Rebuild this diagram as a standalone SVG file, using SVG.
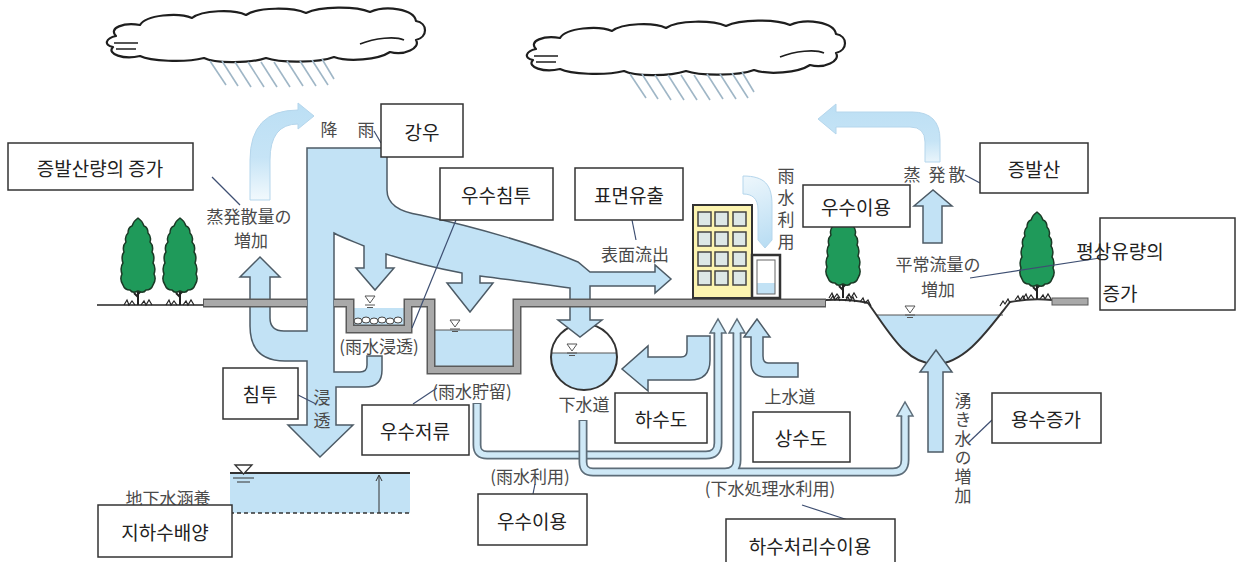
<svg xmlns="http://www.w3.org/2000/svg" width="1239" height="562" viewBox="0 0 1239 562">
<style>
.box{fill:#fff;stroke:#333;stroke-width:1.5}
.kr{font-family:"Noto Sans CJK KR","Noto Sans CJK JP",sans-serif;font-size:19px;fill:#222;text-anchor:middle;dominant-baseline:central}
.jp{font-family:"Noto Sans CJK JP",sans-serif;font-size:17px;fill:#4a4a4a;text-anchor:middle;dominant-baseline:central}
.vt{font-family:"Noto Sans CJK JP",sans-serif;font-size:17px;fill:#4a4a4a;text-anchor:middle;writing-mode:vertical-rl}
.flow{fill:#c2e2f5;stroke:#4d5b66;stroke-width:1.5;stroke-linejoin:miter}
.lead{fill:none;stroke:#3e4f72;stroke-width:1.2}
.pipeO{fill:none;stroke:#5d6d79;stroke-width:9}
.pipeI{fill:none;stroke:#cfe9f7;stroke-width:5.5}
.cloud{fill:#fff;stroke:#1e1e1e;stroke-width:2.2;stroke-linejoin:round}
.rain{stroke:#9fb6c6;stroke-width:1.6}
.tree{fill:#1f9a5a;stroke:#1b3a26;stroke-width:1.5;stroke-linejoin:round}
.grass{fill:none;stroke:#222;stroke-width:1.2}
.wl{fill:none;stroke:#555;stroke-width:1}
</style>
<defs>
  <linearGradient id="evapL" gradientUnits="userSpaceOnUse" x1="0" y1="105" x2="0" y2="200">
    <stop offset="0" stop-color="#bcdff4"/><stop offset="0.55" stop-color="#c6e4f6"/><stop offset="1" stop-color="#f2f9fd"/>
  </linearGradient>
  <linearGradient id="evapR" gradientUnits="userSpaceOnUse" x1="0" y1="105" x2="0" y2="165">
    <stop offset="0" stop-color="#bcdff4"/><stop offset="0.6" stop-color="#c6e4f6"/><stop offset="1" stop-color="#eef7fc"/>
  </linearGradient>
  <linearGradient id="useG" gradientUnits="userSpaceOnUse" x1="743" y1="176" x2="770" y2="245">
    <stop offset="0" stop-color="#eef7fc"/><stop offset="1" stop-color="#b9ddf3"/>
  </linearGradient>
  <clipPath id="sewerClip"><rect x="540" y="353" width="90" height="50"/></clipPath>
  <clipPath id="riverClip"><rect x="860" y="315" width="160" height="60"/></clipPath>
  <!-- cloud with rain streaks -->
  <g id="cloud">
    <path class="cloud" d="M 116 36 C 108 28 124 22 140 25 C 146 15 178 12 192 18 C 202 10 234 9 246 15 C 258 7 292 7 306 13 C 320 6 356 6 370 12 C 386 5 414 9 416 21 C 428 23 428 37 416 40 C 421 48 404 56 390 52 C 378 60 348 62 334 57 C 318 63 280 63 266 58 C 248 64 214 63 204 58 C 184 63 150 61 140 56 C 124 60 106 54 113 47 C 103 45 106 38 116 36 Z"/>
    <path fill="none" stroke="#1e1e1e" stroke-width="1.6" d="M 114 43 H 138 M 116 49 H 136 M 360 44 C 375 38 395 36 404 40"/>
    <g class="rain">
      <line x1="210" y1="61" x2="226" y2="85"/><line x1="222" y1="61" x2="238" y2="86"/>
      <line x1="235" y1="62" x2="251" y2="87"/><line x1="248" y1="62" x2="264" y2="87"/>
      <line x1="261" y1="62" x2="277" y2="87"/><line x1="274" y1="62" x2="290" y2="87"/>
      <line x1="287" y1="61" x2="303" y2="86"/><line x1="300" y1="61" x2="316" y2="86"/>
      <line x1="312" y1="60" x2="328" y2="85"/><line x1="322" y1="59" x2="334" y2="79"/>
    </g>
  </g>
  <!-- tree: centre x=0, crown top y=0, ground y=87 -->
  <g id="tree">
    <path fill="none" stroke="#222" stroke-width="2" d="M0,68 V87 M0,79 L-4,75 M0,76 L4,72"/>
    <path class="tree" d="M0,0 C3,2 5,5 6,8 C9,9 10,12 10,15 C13,18 13,21 12,24 C15,27 15,31 14,34 C17,38 16,42 15,45 C18,49 17,53 16,56 C18,60 17,64 15,67 C14,70 11,72 8,72 C6,75 2,74 0,73 C-2,74 -6,75 -8,72 C-11,72 -14,70 -15,67 C-17,64 -18,60 -16,56 C-17,53 -18,49 -15,45 C-16,42 -17,38 -14,34 C-15,31 -15,27 -12,24 C-13,21 -13,18 -10,15 C-10,12 -9,9 -6,8 C-5,5 -3,2 0,0 Z"/>
    <path class="grass" d="M-14,87 L-11,82 L-9,87 L-6,83 L-3,87 M3,87 L6,83 L8,87 L11,82 L14,87"/>
  </g>
  <!-- water level mark -->
  <g id="wl">
    <path fill="#fff" stroke="#555" stroke-width="1" d="M -5 -4 H 5 L 0 3 Z"/>
    <path class="wl" d="M -5 5 H 5 M -3 7.5 H 3"/>
  </g>
  <!-- hollow head for pipe arrows -->
  <path id="phead" fill="#cfe9f7" stroke="#5d6d79" stroke-width="1.5" d="M -2.8 14 H -8 L 0 0 L 8 14 H 2.8"/>
</defs>

<rect width="1239" height="562" fill="#fff"/>

<g id="clouds">
  <use href="#cloud"/>
  <use href="#cloud" transform="translate(420,13)"/>
</g>

<!-- evaporation arrows in the sky -->
<g id="evap-arrows">
  <path fill="url(#evapL)" stroke="#b5d6ec" stroke-width="1" d="M 250 200 V 160 Q 250 110 298 110 V 103 L 314 116 L 298 129 V 124 Q 270 124 270 160 V 200 Z"/>
  <path fill="url(#evapR)" stroke="#b5d6ec" stroke-width="1" d="M 940 162 V 140 Q 940 112 912 112 H 836 V 104 L 818 119 L 836 134 V 127 H 910 Q 925 127 925 142 V 162 Z"/>
</g>

<!-- trees and natural ground -->
<g id="trees">
  <path fill="none" stroke="#222" stroke-width="1.5" d="M 97 305 H 203"/>
  <use href="#tree" transform="translate(138,218)"/>
  <use href="#tree" transform="translate(180,218)"/>
  <use href="#tree" transform="translate(843,211)"/>
  <use href="#tree" transform="translate(1037,212)"/>
</g>

<!-- river channel -->
<g id="river">
  <path fill="#c2e2f5" clip-path="url(#riverClip)" d="M 868 303 C 888 330 905 364 935 364 C 965 364 988 330 1010 302 Z"/>
  <path fill="none" stroke="#555" stroke-width="1" d="M 877 315 H 1003"/>
  <path fill="none" stroke="#333" stroke-width="2" d="M 826 300 Q 850 299 868 303 C 888 330 905 364 935 364 C 965 364 988 330 1010 302 Q 1030 298 1052 300"/>
  <path class="grass" d="M 830 300 l 3 -4 l 2 4 l 3 -3 l 2 4 M 845 301 l 3 -4 l 2 4 l 3 -4 l 2 5 M 860 302 l 3 -4 l 2 5 l 3 -3 l 3 6 M 1000 306 l 3 -5 l 2 3 l 3 -5 l 2 4 M 1015 300 l 3 -4 l 2 4 l 3 -4 l 2 4"/>
  <use href="#wl" transform="translate(910,310)"/>
  <rect x="1052" y="298" width="36" height="7" fill="#a9a9a9" stroke="#5a5a5a" stroke-width="1"/>
</g>

<!-- trench and storage water -->
<g id="storage">
  <rect x="353" y="308" width="52" height="18" fill="#c2e2f5"/>
  <g fill="#fff" stroke="#444" stroke-width="1">
    <ellipse cx="358" cy="321" rx="4" ry="3"/><ellipse cx="366" cy="320" rx="4" ry="3"/>
    <ellipse cx="374" cy="321" rx="4" ry="3"/><ellipse cx="382" cy="320" rx="4" ry="3"/>
    <ellipse cx="390" cy="321" rx="4" ry="3"/><ellipse cx="398" cy="320" rx="4" ry="3"/>
  </g>
  <use href="#wl" transform="translate(370,300)"/>
  <rect x="434" y="330" width="80" height="37" fill="#c2e2f5"/>
  <path fill="none" stroke="#555" stroke-width="1" d="M 434 330 H 514"/>
  <use href="#wl" transform="translate(455,324)"/>
</g>

<!-- sewer pipe -->
<g id="sewer">
  <circle cx="584" cy="357" r="33" fill="#fff"/>
  <circle cx="584" cy="357" r="33" fill="#c2e2f5" clip-path="url(#sewerClip)"/>
  <path fill="none" stroke="#555" stroke-width="1" d="M 551 353 H 617"/>
  <circle cx="584" cy="357" r="33" fill="none" stroke="#333" stroke-width="2"/>
  <use href="#wl" transform="translate(572,348)"/>
</g>

<!-- rainfall, surface runoff, infiltration and evaporation flows -->
<g id="flows">
  <path class="flow" d="M 307 148 H 387 V 190 C 387 205 400 212 420 215 C 480 228 540 246 578 262 L 590 272 H 655 V 265 L 671 279 L 655 293 V 286 H 590 V 320 H 602 L 580 337 L 558 320 H 570 V 288 C 540 284 505 279 480 276 V 283 H 493 L 470 312 L 447 283 H 462 V 273 C 430 267 405 260 386 254 V 268 H 394 L 375 290 L 356 268 H 364 V 246 C 352 241 341 237 334 233 V 372 H 360 Q 367 372 367 365 V 356 H 382 V 370 Q 382 387 365 387 H 336 V 425 H 353 L 320 457 L 288 425 H 307 V 361 H 285 Q 250 361 250 326 V 277 H 240 L 260 257 L 280 277 H 270 V 318 Q 270 331 284 331 H 307 Z"/>
  <path class="flow" d="M 687 336 V 351 Q 687 357 681 357 H 648 V 346 L 622 369 L 648 391 V 380 H 690 Q 710 380 710 360 V 336 Z"/>
  <path class="flow" d="M 751 337 V 362 Q 751 377 766 377 H 798 V 363 H 768 Q 763 363 763 356 V 337 H 770 L 757 319 L 744 337 Z"/>
  <path class="flow" d="M 923 243 V 206 H 914 L 933 190 L 952 206 H 942 V 243 Z"/>
  <path class="flow" stroke="#7a8a96" d="M 928 452 V 372 H 920 L 936 350 L 952 372 H 943 V 452 Z"/>
</g>

<!-- paved ground with infiltration trench and storage tank -->
<g id="ground" fill="none" stroke-linejoin="miter">
  <path stroke="#5a5a5a" stroke-width="9" d="M 203 303 H 307 M 334 303 H 350 V 329 H 408 V 303 H 431 V 370 H 517 V 303 H 826"/>
  <path stroke="#a9a9a9" stroke-width="6" d="M 204 303 H 307 M 334 303 H 350 V 329 H 408 V 303 H 431 V 370 H 517 V 303 H 825"/>
</g>

<!-- building with rainwater tank -->
<g id="building">
  <path fill="url(#useG)" stroke="#b5d6ec" stroke-width="1" d="M 743 176 C 765 176 772 185 772 205 V 240 L 765 248 L 758 240 V 210 C 758 198 752 194 743 194 Z"/>
  <rect x="693" y="205" width="59" height="93" fill="#fcf4b0" stroke="#333" stroke-width="2"/>
  <g fill="#dde8e6" stroke="#444" stroke-width="1.5">
    <rect x="698" y="212" width="13" height="14"/><rect x="715" y="212" width="13" height="14"/><rect x="733" y="212" width="13" height="14"/>
    <rect x="698" y="232" width="13" height="14"/><rect x="715" y="232" width="13" height="14"/><rect x="733" y="232" width="13" height="14"/>
    <rect x="698" y="252" width="13" height="14"/><rect x="715" y="252" width="13" height="14"/><rect x="733" y="252" width="13" height="14"/>
    <rect x="698" y="271" width="13" height="14"/><rect x="715" y="271" width="13" height="14"/><rect x="733" y="271" width="13" height="14"/>
  </g>
  <rect x="752" y="255" width="28" height="43" fill="#fff" stroke="#333" stroke-width="2.5"/>
  <rect x="757" y="283" width="18" height="11" fill="#c2e2f5"/>
  <rect x="757" y="260" width="18" height="34" fill="none" stroke="#666" stroke-width="1"/>
</g>

<!-- reuse pipes -->
<g id="pipes">
  <path class="pipeO" d="M 477 403 V 445 Q 477 455 487 455 H 706 Q 718 455 718 443 V 332"/>
  <path class="pipeI" d="M 477 404 V 445 Q 477 455 487 455 H 706 Q 718 455 718 443 V 331"/>
  <path class="pipeO" d="M 583 420 V 462 Q 583 472 593 472 H 893 Q 905 472 905 460 V 415 M 725 472 Q 737 472 737 460 V 332"/>
  <path class="pipeI" d="M 583 421 V 462 Q 583 472 593 472 H 893 Q 905 472 905 460 V 414 M 725 472 Q 737 472 737 460 V 331"/>
  <use href="#phead" transform="translate(718,319)"/>
  <use href="#phead" transform="translate(737,319)"/>
  <use href="#phead" transform="translate(905,402)"/>
</g>

<!-- groundwater recharge -->
<g id="groundwater">
  <rect x="230" y="473" width="180" height="40" fill="#c2e2f5"/>
  <path fill="none" stroke="#333" stroke-width="2" d="M 230 473 H 410"/>
  <path fill="none" stroke="#333" stroke-width="1.5" stroke-dasharray="4 3" d="M 230 513 H 410"/>
  <path fill="none" stroke="#333" stroke-width="1" d="M 379 513 V 476 M 376 481 L 379 475 L 382 481"/>
  <path fill="#fff" stroke="#333" stroke-width="1.3" d="M 235 465 H 252 L 243.5 474 Z"/>
  <path fill="none" stroke="#333" stroke-width="1.2" d="M 233 478 H 254 M 237 482 H 250"/>
</g>

<!-- Japanese process labels -->
<g id="jp-labels">
  <text class="jp" font-size="16" x="329" y="128">降</text>
  <text class="jp" font-size="16" x="366" y="128">雨</text>
  <text class="jp" font-size="16" x="249" y="215">蒸発散量の</text>
  <text class="jp" font-size="16" x="251" y="239">増加</text>
  <text class="jp" x="379" y="345">(雨水浸透)</text>
  <text class="jp" x="635" y="253">表面流出</text>
  <text class="vt" font-size="15" letter-spacing="5" x="786" y="211">雨水利用</text>
  <text class="jp" x="912" y="173">蒸</text>
  <text class="jp" x="937" y="173">発</text>
  <text class="jp" x="957" y="173">散</text>
  <text class="jp" x="938" y="263">平常流量の</text>
  <text class="jp" x="938" y="288">増加</text>
  <text class="vt" letter-spacing="6" x="322" y="412">浸透</text>
  <text class="jp" x="472" y="390">(雨水貯留)</text>
  <text class="jp" x="584" y="403">下水道</text>
  <text class="jp" x="790" y="395">上水道</text>
  <text class="jp" x="530" y="475">(雨水利用)</text>
  <text class="jp" x="770" y="487">(下水処理水利用)</text>
  <text class="vt" letter-spacing="2" x="963" y="449">湧き水の増加</text>
  <text class="jp" x="168" y="497">地下水涵養</text>
</g>

<!-- leader lines from labels to callout boxes -->
<g id="connectors">
  <path class="lead" d="M 212 177 L 240 205"/>
  <path class="lead" d="M 374 131 L 381 143"/>
  <path class="lead" d="M 456 220 L 412 328"/>
  <path class="lead" d="M 632 220 L 636 240"/>
  <path class="lead" d="M 965 175 L 980 183"/>
  <path class="lead" d="M 970 278 L 1100 258"/>
  <path class="lead" d="M 298 395 L 316 404"/>
  <path class="lead" d="M 437 388 L 413 404"/>
  <path class="lead" d="M 535 484 L 533 494"/>
  <path class="lead" d="M 802 505 L 848 520"/>
  <path class="lead" d="M 992 420 L 968 443"/>
</g>

<g id="box-evap-increase"><rect class="box" x="8" y="143" width="185" height="47"/><text class="kr" x="100" y="167">증발산량의 증가</text></g>
<g id="box-rainfall"><rect class="box" x="381" y="104" width="82" height="53"/><text class="kr" x="422" y="131">강우</text></g>
<g id="box-infiltration-rain"><rect class="box" x="440" y="168" width="113" height="52"/><text class="kr" x="496" y="194">우수침투</text></g>
<g id="box-runoff"><rect class="box" x="575" y="168" width="108" height="52"/><text class="kr" x="629" y="194">표면유출</text></g>
<g id="box-rain-use-top"><rect class="box" x="803" y="185" width="107" height="42"/><text class="kr" x="856" y="206">우수이용</text></g>
<g id="box-evap"><rect class="box" x="980" y="143" width="108" height="50"/><text class="kr" x="1034" y="168">증발산</text></g>
<g id="box-baseflow"><rect class="box" x="1100" y="218" width="135" height="92"/><text class="kr" font-size="18" text-anchor="start"><tspan x="1120" y="250">평상유량의</tspan><tspan x="1120" y="292">증가</tspan></text></g>
<g id="box-infiltration"><rect class="box" x="223" y="368" width="75" height="51"/><text class="kr" x="260" y="393">침투</text></g>
<g id="box-storage"><rect class="box" x="362" y="405" width="107" height="50"/><text class="kr" x="415" y="430">우수저류</text></g>
<g id="box-sewer"><rect class="box" x="615" y="393" width="92" height="50"/><text class="kr" x="661" y="418">하수도</text></g>
<g id="box-water-supply"><rect class="box" x="753" y="412" width="97" height="50"/><text class="kr" x="801" y="437">상수도</text></g>
<g id="box-spring"><rect class="box" x="992" y="393" width="109" height="50"/><text class="kr" x="1046" y="418">용수증가</text></g>
<g id="box-rain-use"><rect class="box" x="478" y="494" width="109" height="51"/><text class="kr" x="532" y="520">우수이용</text></g>
<g id="box-reclaimed"><rect class="box" x="726" y="519" width="169" height="50"/><text class="kr" x="810" y="545">하수처리수이용</text></g>
<g id="box-recharge"><rect class="box" x="98" y="505" width="134" height="52"/><text class="kr" x="165" y="531">지하수배양</text></g>
</svg>
